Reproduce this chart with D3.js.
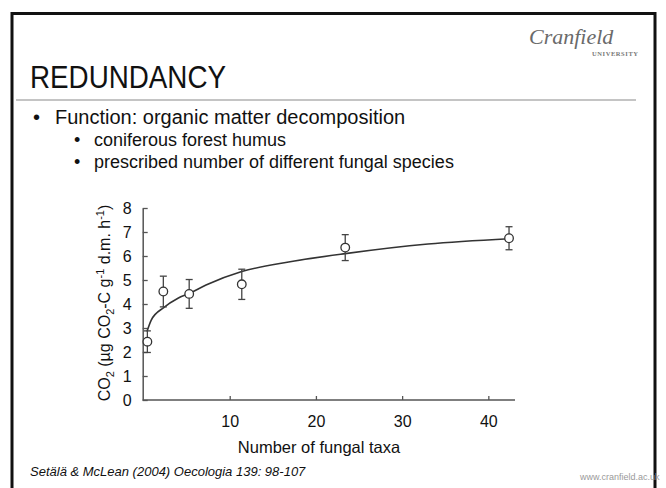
<!DOCTYPE html>
<html>
<head>
<meta charset="utf-8">
<script src="https://cdn.jsdelivr.net/npm/d3@7"></script>
<style>
  body { margin: 0; background: #fff; }
  svg { display: block; font-family: "Liberation Sans", Arial, sans-serif; }
</style>
</head>
<body>
<div id="slide"></div>
<script>
// fungal taxa vs CO2
var taxa = [0.45, 2.3, 5.3, 11.4, 23.4, 42.4];
var co2 = [2.43, 4.52, 4.42, 4.82, 6.35, 6.74];
var errBar = [0.45, 0.64, 0.6, 0.63, 0.54, 0.48];

// fitted curve
var fitX = [0.4, 0.9, 2.35, 4, 5.3, 7.25, 11.4, 17, 23.4, 33, 42.4];
var fitY = [2.85, 3.33, 3.85, 4.24, 4.44, 4.79, 5.35, 5.76, 6.1, 6.5, 6.72];

var xTicks = [10, 20, 30, 40];
var yTicks = [0, 1, 2, 3, 4, 5, 6, 7, 8];

var title = "REDUNDANCY";
var bullets = ["Function: organic matter decomposition"];
var subBullets = ["coniferous forest humus", "prescribed number of different fungal species"];
var citation = "Setälä & McLean (2004) Oecologia 139: 98-107";

(function() {
  var width = 666,
      height = 488;

  var svg = d3.select("#slide").append("svg")
              .attr("width", width)
              .attr("height", height);

  // slide frame
  svg.append("rect")
     .attr("x", 12).attr("y", 13.5)
     .attr("width", 643).attr("height", 500)
     .attr("fill", "none")
     .attr("stroke", "#111")
     .attr("stroke-width", 3);

  // header
  svg.append("text")
     .attr("x", 30).attr("y", 88)
     .attr("font-size", 31)
     .attr("textLength", 196)
     .attr("lengthAdjust", "spacingAndGlyphs")
     .attr("fill", "#111")
     .text(title);

  // logo
  svg.append("text")
     .attr("x", 529).attr("y", 44)
     .attr("font-family", "'Liberation Serif', 'DejaVu Serif', serif")
     .attr("font-style", "italic")
     .attr("font-size", 22)
     .attr("fill", "#6a6a6a")
     .text("Cranfield");
  svg.append("text")
     .attr("x", 592).attr("y", 56)
     .attr("font-family", "'Liberation Serif', 'DejaVu Serif', serif")
     .attr("font-weight", "bold")
     .attr("font-size", 6.5)
     .attr("textLength", 46)
     .attr("fill", "#777")
     .text("UNIVERSITY");

  svg.append("line")
     .attr("x1", 16).attr("x2", 636)
     .attr("y1", 100).attr("y2", 100)
     .attr("stroke", "#c4c4c4")
     .attr("stroke-width", 2);

  // bullet text
  var bl = svg.append("g").attr("fill", "#111");
  bullets.forEach(function(t, i) {
    bl.append("text").attr("x", 33).attr("y", 124 + i * 22).attr("font-size", 20).text("\u2022");
    bl.append("text").attr("x", 55).attr("y", 124 + i * 22).attr("font-size", 20).text(t);
  });
  subBullets.forEach(function(t, i) {
    bl.append("text").attr("x", 74).attr("y", 146 + i * 22).attr("font-size", 18).text("\u2022");
    bl.append("text").attr("x", 94).attr("y", 146 + i * 22).attr("font-size", 18).text(t);
  });

  // chart
  var x = d3.scaleLinear().domain([0, 43]).range([143.5, 514.2]);
  var y = d3.scaleLinear().domain([0, 8]).range([400, 208]);

  var axisColor = "#555";
  var g = svg.append("g");

  var xAxis = g.append("g")
     .attr("transform", "translate(0," + y(0) + ")")
     .call(d3.axisBottom(x).tickValues(xTicks).tickSize(-4).tickPadding(16).tickSizeOuter(0));
  xAxis.select(".domain").attr("d", "M142.7,0H515");

  var yAxis = g.append("g")
     .attr("transform", "translate(142.7,0)")
     .call(d3.axisLeft(y).tickValues(yTicks).tickSize(-5).tickPadding(11).tickSizeOuter(0));

  [xAxis, yAxis].forEach(function(a) {
    a.attr("font-family", "'Liberation Sans', Arial, sans-serif");
    a.select(".domain").attr("stroke", axisColor).attr("stroke-width", 1.5);
    a.selectAll(".tick line").attr("stroke", axisColor).attr("stroke-width", 1.3);
    a.selectAll(".tick text").attr("fill", "#111").attr("font-size", 16);
  });

  // fitted line
  var line = d3.line()
               .x(function(d) { return x(d[0]); })
               .y(function(d) { return y(d[1]); })
               .curve(d3.curveMonotoneX);
  g.append("path")
   .datum(fitX.map(function(v, i) { return [v, fitY[i]]; }))
   .attr("d", line)
   .attr("fill", "none")
   .attr("stroke", "#333")
   .attr("stroke-width", 1.6);

  var pts = taxa.map(function(v, i) { return {t: v, c: co2[i], e: errBar[i]}; });

  // error bars
  var eb = g.append("g").attr("stroke", "#444").attr("stroke-width", 1.3);
  eb.selectAll(".stem").data(pts).join("line")
    .attr("x1", d => x(d.t)).attr("x2", d => x(d.t))
    .attr("y1", d => y(d.c - d.e)).attr("y2", d => y(d.c + d.e));
  eb.selectAll(".capTop").data(pts).join("line")
    .attr("x1", d => x(d.t) - 3.5).attr("x2", d => x(d.t) + 3.5)
    .attr("y1", d => y(d.c + d.e)).attr("y2", d => y(d.c + d.e));
  eb.selectAll(".capBot").data(pts).join("line")
    .attr("x1", d => x(d.t) - 3.5).attr("x2", d => x(d.t) + 3.5)
    .attr("y1", d => y(d.c - d.e)).attr("y2", d => y(d.c - d.e));

  g.selectAll("circle")
   .data(pts)
   .join("circle")
   .attr("r", 4.3)
   .attr("cx", d => x(d.t))
   .attr("cy", d => y(d.c))
   .attr("fill", "#fff")
   .attr("stroke", "#333")
   .attr("stroke-width", 1.3);

  // axis titles
  g.append("text")
   .attr("x", 319).attr("y", 453)
   .attr("text-anchor", "middle")
   .attr("font-size", 16.5)
   .attr("fill", "#111")
   .text("Number of fungal taxa");

  var yl = g.append("text")
   .attr("transform", "translate(110," + ((y(0) + y(8)) / 2 - 1) + ") rotate(-90)")
   .attr("text-anchor", "middle")
   .attr("font-size", 16)
   .attr("fill", "#111");
  yl.append("tspan").text("CO");
  yl.append("tspan").attr("font-size", 11).attr("dy", 4).text("2");
  yl.append("tspan").attr("dy", -4).text(" (\u00b5g CO");
  yl.append("tspan").attr("font-size", 11).attr("dy", 4).text("2");
  yl.append("tspan").attr("dy", -4).text("-C g");
  yl.append("tspan").attr("font-size", 11).attr("dy", -6).text("-1");
  yl.append("tspan").attr("dy", 6).text(" d.m. h");
  yl.append("tspan").attr("font-size", 11).attr("dy", -6).text("-1");
  yl.append("tspan").attr("dy", 6).text(")");

  // footer
  svg.append("text")
     .attr("x", 30).attr("y", 476)
     .attr("font-size", 13)
     .attr("font-style", "italic")
     .attr("fill", "#111")
     .text(citation);

  svg.append("text")
     .attr("x", 580).attr("y", 480)
     .attr("font-size", 9)
     .attr("fill", "#9a9a9a")
     .text("www.cranfield.ac.uk");
})();
</script>
</body>
</html>
